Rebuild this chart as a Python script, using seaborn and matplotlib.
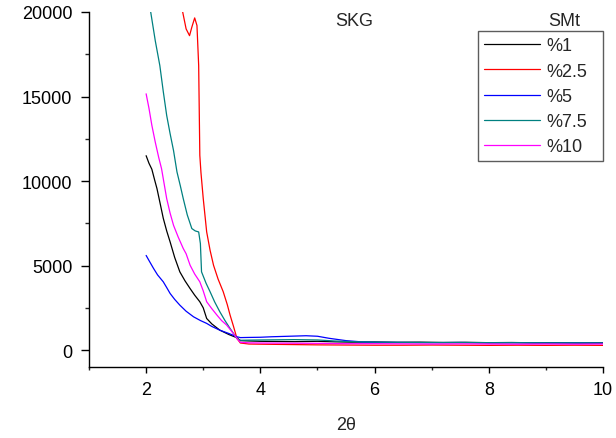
import numpy as np
import pandas as pd
import matplotlib
matplotlib.use("Agg")
import matplotlib.pyplot as plt
import seaborn as sns
from matplotlib.ticker import MultipleLocator
from matplotlib.lines import Line2D

# ---- data ----
x_1 = [2.0, 2.05, 2.1, 2.15, 2.19, 2.25, 2.3, 2.36, 2.42, 2.5, 2.59, 2.68, 2.77, 2.85, 2.94, 3.0,
       3.06, 3.15, 3.29, 3.45, 3.59, 3.65, 3.8, 4.0, 4.3, 4.6, 5.0, 5.3, 5.6, 6.0, 6.4, 6.8, 7.2,
       7.6, 8.0, 8.4, 8.8, 9.2, 9.6, 10.0]
y_1 = [11500, 11050, 10700, 10050, 9550, 8600, 7800, 7050, 6400, 5480, 4630, 4100, 3640, 3250,
       2860, 2500, 1870, 1550, 1180, 920, 730, 560, 540, 520, 510, 500, 520, 490, 470, 480, 460,
       470, 450, 460, 440, 450, 430, 440, 420, 430]

x_25 = [2.6, 2.64, 2.7, 2.76, 2.8, 2.85, 2.89, 2.92, 2.94, 2.96, 3.0, 3.06, 3.12, 3.18, 3.26, 3.35,
        3.42, 3.47, 3.53, 3.59, 3.65, 3.8, 4.0, 4.5, 5.0, 5.5, 6.0, 6.5, 7.0, 7.5, 8.0, 8.5, 9.0,
        9.5, 10.0]
y_25 = [21000, 20000, 19000, 18600, 19100, 19650, 19200, 16830, 11520, 10500, 8960, 6990, 5900,
        5020, 4200, 3450, 2700, 2070, 1400, 690, 420, 360, 350, 330, 310, 300, 290, 290, 300, 290,
        280, 290, 280, 290, 280]

x_5 = [2.0, 2.05, 2.13, 2.2, 2.3, 2.36, 2.42, 2.5, 2.59, 2.7, 2.83, 2.95, 3.06, 3.15, 3.29, 3.45,
       3.59, 3.65, 3.8, 4.0, 4.2, 4.5, 4.8, 5.0, 5.2, 5.5, 5.8, 6.0, 6.5, 7.0, 7.5, 8.0, 8.5, 9.0,
       9.5, 10.0]
y_5 = [5600, 5300, 4830, 4450, 4040, 3700, 3350, 3000, 2660, 2300, 1970, 1750, 1580, 1400, 1180,
       980, 790, 740, 750, 760, 790, 820, 850, 820, 700, 560, 480, 460, 450, 440, 450, 430, 440,
       420, 430, 410]

x_75 = [2.0, 2.08, 2.16, 2.24, 2.3, 2.36, 2.42, 2.48, 2.54, 2.6, 2.65, 2.72, 2.8, 2.86, 2.92, 2.95,
        2.97, 3.05, 3.12, 3.2, 3.29, 3.38, 3.47, 3.59, 3.65, 3.8, 4.0, 4.3, 4.6, 5.0, 5.3, 5.6, 6.0,
        6.5, 7.0, 7.5, 8.0, 8.5, 9.0, 9.5, 10.0]
y_75 = [21600, 20000, 18300, 16830, 15300, 13880, 12800, 11800, 10540, 9700, 8960, 8000, 7190,
        7050, 6990, 6300, 4630, 3950, 3450, 2850, 2270, 1750, 1280, 690, 580, 590, 600, 610, 620,
        600, 540, 500, 470, 460, 450, 450, 440, 440, 430, 430, 420]

x_10 = [2.0, 2.05, 2.1, 2.16, 2.22, 2.27, 2.36, 2.42, 2.48, 2.56, 2.65, 2.7, 2.77, 2.85, 2.94, 3.0,
        3.06, 3.15, 3.24, 3.32, 3.41, 3.5, 3.59, 3.65, 3.8, 4.0, 4.5, 5.0, 5.5, 6.0, 6.5, 7.0, 7.5,
        8.0, 8.5, 9.0, 9.5, 10.0]
y_10 = [15160, 14300, 13300, 12300, 11400, 10730, 8960, 8100, 7380, 6700, 6010, 5700, 5020, 4500,
        4040, 3500, 2860, 2450, 2070, 1750, 1480, 1100, 690, 460, 430, 420, 410, 400, 380, 380,
        370, 360, 370, 360, 350, 360, 350, 360]

series_names = ["%1", "%2.5", "%5", "%7.5", "%10"]
series_colors = ["#000000", "#ff0000", "#0000ff", "#008080", "#ff00ff"]
xs = [x_1, x_25, x_5, x_75, x_10]
ys = [y_1, y_25, y_5, y_75, y_10]

frames = []
for name, xv, yv in zip(series_names, xs, ys):
    frames.append(pd.DataFrame({"2θ": xv, "I": yv, "SMt": name}))
df = pd.concat(frames, ignore_index=True)

sns.set_style("ticks")
plt.rcParams["font.family"] = ["Liberation Sans", "DejaVu Sans"]

fig = plt.figure(figsize=(6.16, 4.39), dpi=100)
ax = fig.add_axes([0.1445, 0.1617, 0.979 - 0.1445, 0.9704 - 0.1617])

palette = dict(zip(series_names, series_colors))
sns.lineplot(data=df, x="2θ", y="I", hue="SMt", hue_order=series_names, palette=palette,
             estimator=None, sort=False, linewidth=0.9, legend=False, ax=ax)

ax.set_xlim(1, 10)
ax.set_ylim(-1000, 20000)
ax.xaxis.set_major_locator(MultipleLocator(2))
ax.xaxis.set_minor_locator(MultipleLocator(1))
ax.yaxis.set_major_locator(MultipleLocator(5000))
ax.yaxis.set_minor_locator(MultipleLocator(2500))
ax.set_yticks([0, 5000, 10000, 15000, 20000])

for s in ["top", "right"]:
    ax.spines[s].set_visible(False)
for s in ["left", "bottom"]:
    ax.spines[s].set_linewidth(1.0)
    ax.spines[s].set_color("black")

ax.tick_params(axis="y", which="major", length=6, width=1.0, labelsize=13, pad=6, colors="black")
ax.tick_params(axis="y", which="minor", length=3, width=1.0)
ax.tick_params(axis="x", which="major", length=4, width=1.0, labelsize=13, pad=6, colors="black")
ax.tick_params(axis="x", which="minor", length=2.5, width=1.0)

ax.set_xlabel("2θ", fontsize=13, labelpad=13)
ax.set_ylabel("")

ax.text(5.31, 19470, "SKG", fontsize=13, ha="left", va="center")
ax.text(9.04, 19470, "SMt", fontsize=13, ha="left", va="center")

handles = [Line2D([0], [0], color=c, lw=0.9) for c in series_colors]
leg = ax.legend(handles, series_names, loc="upper left",
                bbox_to_anchor=(0.7574, 0.0, 0.2426, 0.9456), mode="expand",
                fontsize=13, frameon=True, fancybox=False, handlelength=3.08,
                handletextpad=0.37, labelspacing=0.46, borderpad=0.33, borderaxespad=0)
leg.get_frame().set_edgecolor("#333333")
leg.get_frame().set_linewidth(1.0)

fig.savefig("out.png", dpi=100)
